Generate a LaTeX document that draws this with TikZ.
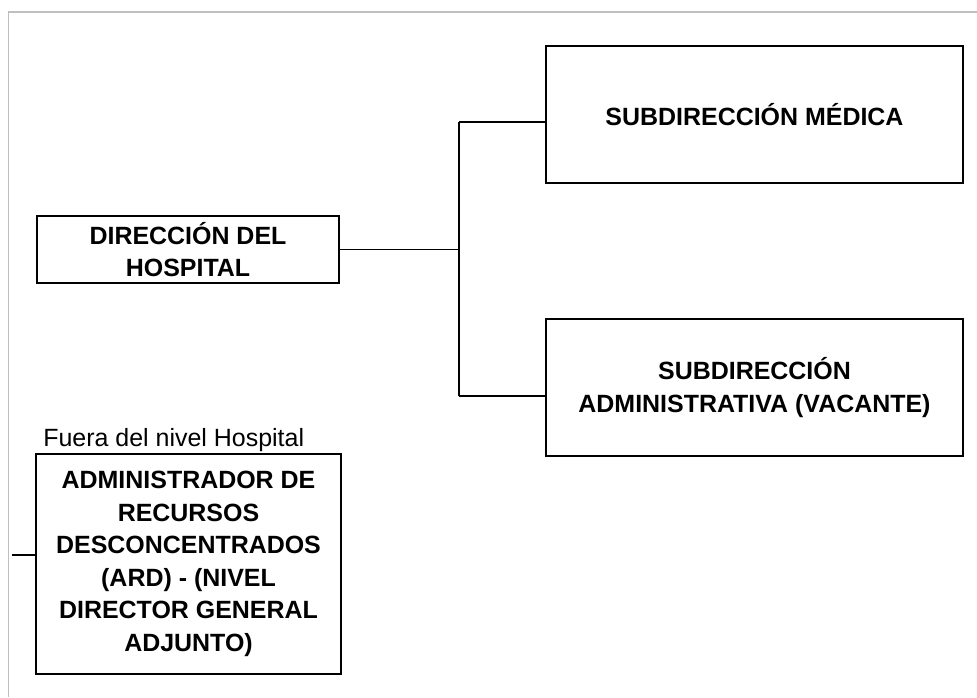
\documentclass[tikz,border=0pt]{standalone}
\usepackage{fontspec}
\setmainfont{Liberation Sans}

\begin{document}
\begin{tikzpicture}[every node/.style={font=\fontsize{14.2}{18.5}\selectfont},
  orgbox/.style={draw, line width=1.1pt, rectangle, inner sep=0pt, align=center, font=\fontsize{14.2}{18.5}\selectfont\bfseries},
  link/.style={line width=1.1pt}]
\useasboundingbox (0,0) rectangle (19.54,13.94);
% Window frame
\draw[line width=1.1pt, black!25] (0.17,0) -- (0.17,13.70) -- (19.54,13.70);

% Boxes
\node[orgbox, minimum width=6.04cm, minimum height=1.34cm] (dir) at (3.76,8.95) {DIRECCIÓN DEL\\HOSPITAL};
\node[orgbox, minimum width=8.34cm, minimum height=2.74cm] (med) at (15.09,11.65) {SUBDIRECCIÓN MÉDICA};
\node[orgbox, minimum width=8.34cm, minimum height=2.74cm] (adm) at (15.09,6.19) {SUBDIRECCIÓN\\ADMINISTRATIVA (VACANTE)};
\node[orgbox, minimum width=6.10cm, minimum height=4.40cm] (ard) at (3.77,2.66) {ADMINISTRADOR DE\\RECURSOS\\DESCONCENTRADOS\\(ARD) - (NIVEL\\DIRECTOR GENERAL\\ADJUNTO)};
\node[anchor=base west, inner sep=0pt] (fuera) at (0.86,5.00) {Fuera del nivel Hospital};

% Connectors
\coordinate (bt) at (9.18,11.50);
\coordinate (bb) at (9.18,6.02);
\coordinate (lt) at (0.24,2.84);
\draw[link] (dir.east) -- (dir.east -| bt);
\draw[link] (bt) -- (bb);
\draw[link] (bt) -- (bt -| med.west);
\draw[link] (bb) -- (bb -| adm.west);
\draw[link] (lt) -- (lt -| ard.west);
\end{tikzpicture}
\end{document}
